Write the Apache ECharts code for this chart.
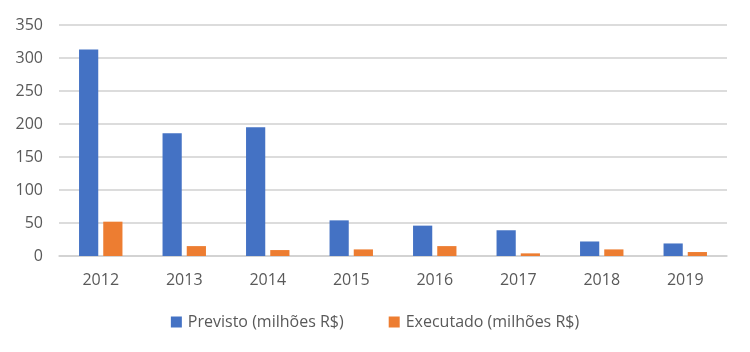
<!DOCTYPE html>
<html>
<head>
<meta charset="utf-8">
<script src="https://cdn.jsdelivr.net/npm/echarts@6/dist/echarts.min.js"></script>
<style>html,body{margin:0;padding:0;background:#fff}#c{width:750px;height:352px}</style>
</head>
<body>
<div id="c"></div>
<script>
const categories = ['2012','2013','2014','2015','2016','2017','2018','2019'];
const previsto = [313, 186, 195, 54, 46, 39, 22, 19];
const executado = [52, 15, 9, 10, 15, 4, 10, 6];
const seriesNames = ['Previsto (milhões R$)', 'Executado (milhões R$)'];

const chart = echarts.init(document.getElementById('c'));
const font = '"Open Sans", "Noto Sans", sans-serif';
chart.setOption({
  animation: false,
  textStyle: { fontFamily: font },
  grid: { left: 59, right: 23, top: 25, bottom: 96 },
  legend: {
    bottom: 17, left: 'center',
    itemWidth: 11, itemHeight: 11, itemGap: 45,
    icon: 'rect',
    textStyle: { fontSize: 16, color: '#595959', fontFamily: font, padding: [0, 0, 0, 1] }
  },
  xAxis: {
    type: 'category', data: categories,
    axisLine: { lineStyle: { color: '#d0d0d0', width: 1.5 } },
    axisTick: { show: false },
    axisLabel: { fontSize: 16, color: '#595959', margin: 16, fontFamily: font }
  },
  yAxis: {
    type: 'value', min: 0, max: 350, interval: 50,
    axisLine: { show: false }, axisTick: { show: false },
    splitLine: { lineStyle: { color: '#d0d0d0', width: 1.5 } },
    axisLabel: { fontSize: 16, color: '#595959', margin: 16, fontFamily: font }
  },
  series: [
    { name: seriesNames[0], type: 'bar', data: previsto, itemStyle: { color: '#4472c4' }, barGap: '26%', barCategoryGap: '48%' },
    { name: seriesNames[1], type: 'bar', data: executado, itemStyle: { color: '#ed7d31' } }
  ]
});
</script>
</body>
</html>
